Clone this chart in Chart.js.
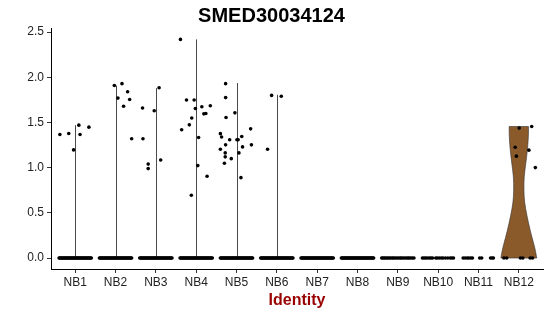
<!DOCTYPE html>
<html><head><meta charset="utf-8">
<script src="https://cdn.jsdelivr.net/npm/chart.js@4/dist/chart.umd.min.js"></script>
<style>html,body{margin:0;padding:0;background:#fff;}#wrap{width:550px;height:316px;}</style>
</head><body><div id="wrap"><canvas id="c" width="550" height="316"></canvas></div>
<script>
const chartTitle = 'SMED30034124';
const axisTitle = 'Identity';
const categories = ['NB1','NB2','NB3','NB4','NB5','NB6','NB7','NB8','NB9','NB10','NB11','NB12'];
const yTicks = [0, 0.5, 1.0, 1.5, 2.0, 2.5];

// non-zero expression values per identity, with their horizontal jitter (category units)
const exprValues = [
  [1.367, 1.378, 1.197, 1.471, 1.367, 1.449],
  [1.91, 1.77, 1.93, 1.68, 1.84, 1.755, 1.32],
  [1.66, 1.32, 1.04, 0.99, 1.63, 1.885, 1.086],
  [2.42, 1.75, 1.75, 1.655, 1.674, 1.596, 1.60, 1.685, 1.55, 1.474, 1.42, 1.334, 1.023, 0.906, 0.695],
  [1.93, 1.776, 1.607, 1.556, 1.377, 1.34, 1.31, 1.31, 1.31, 1.345, 1.43, 1.253, 1.23, 1.253, 1.205, 1.164, 1.164, 1.12, 1.10, 1.05, 0.89],
  [1.205, 1.80, 1.79],
  [], [], [], [], [],
  [1.438, 1.456, 1.227, 1.194, 1.128, 1.001]
];
const exprJitter = [
  [-0.38, -0.16, -0.04, 0.09, 0.12, 0.34],
  [-0.03, 0.06, 0.16, 0.20, 0.30, 0.35, 0.40],
  [-0.33, -0.32, -0.19, -0.19, -0.04, 0.08, 0.12],
  [-0.39, -0.24, -0.05, -0.02, 0.14, 0.19, 0.24, 0.35, -0.11, -0.17, -0.36, 0.06, 0.04, 0.27, -0.12],
  [-0.27, -0.27, -0.04, -0.26, -0.40, -0.37, -0.17, 0.01, 0.04, 0.13, 0.35, -0.27, 0.15, 0.37, -0.40, 0.06, -0.28, -0.28, -0.13, -0.30, 0.11],
  [-0.23, -0.13, 0.11],
  [], [], [], [], [],
  [0.01, 0.32, -0.09, 0.25, -0.06, 0.41]
];

// cells with zero expression: horizontal jitter of each dot (category units)
const zeroJitterDense = [-0.40,-0.38,-0.36,-0.34,-0.32,-0.30,-0.28,-0.26,-0.24,-0.22,-0.20,-0.18,-0.16,-0.14,-0.12,-0.10,-0.08,-0.06,-0.04,-0.02,0.00,0.02,0.04,0.06,0.08,0.10,0.12,0.14,0.16,0.18,0.20,0.22,0.24,0.26,0.28,0.30,0.32,0.34,0.36,0.38,0.40];
const zeroJitterNB9  = [-0.40,-0.37,-0.34,-0.31,-0.27,-0.24,-0.20,-0.17,-0.13,-0.10,-0.06,-0.02,0.02,0.06,0.09,0.13,0.17,0.21,0.25,0.28,0.32,0.36,0.40];
const zeroJitterNB10 = [-0.39,-0.35,-0.31,-0.27,-0.22,-0.18,-0.14,-0.06,-0.02,0.03,0.08,0.12,0.18,0.24,0.30,0.34,0.38];
const zeroJitterNB11 = [-0.38,-0.33,-0.28,-0.24,-0.19,-0.15,0.03,0.08,0.30,0.34,0.37];
const zeroJitterNB12 = [-0.37,-0.30,0.04,0.10,0.28,0.34];
const zeroJitter = [zeroJitterDense, zeroJitterDense, zeroJitterDense, zeroJitterDense, zeroJitterDense, zeroJitterDense,
                    zeroJitterDense, zeroJitterDense, zeroJitterNB9, zeroJitterNB10, zeroJitterNB11, zeroJitterNB12];

// violins: NB1-NB6 collapse to thin lines up to their max value
const violinTops = [1.47, 1.91, 1.88, 2.42, 1.937, 1.807, 0, 0, 0, 0, 0, 0];
// NB12 violin profile: value -> half width (category units)
const nb12ViolinValue = [0.0, 0.08, 0.16, 0.30, 0.47, 0.62, 0.75, 0.90, 1.05, 1.20, 1.35, 1.456];
const nb12ViolinHalf  = [0.445, 0.415, 0.37, 0.285, 0.20, 0.14, 0.125, 0.13, 0.175, 0.215, 0.24, 0.24];

const points = [];
categories.forEach((c, i) => {
  zeroJitter[i].forEach(o => points.push({x: i + 1 + o, y: 0}));
  exprValues[i].forEach((v, j) => points.push({x: i + 1 + exprJitter[i][j], y: v}));
});

function smoothSide(ctx, pts, first) {
  // quadratic smoothing through midpoints
  if (first) ctx.moveTo(pts[0][0], pts[0][1]); else ctx.lineTo(pts[0][0], pts[0][1]);
  for (let k = 1; k < pts.length - 1; k++) {
    const mx = (pts[k][0] + pts[k + 1][0]) / 2, my = (pts[k][1] + pts[k + 1][1]) / 2;
    ctx.quadraticCurveTo(pts[k][0], pts[k][1], mx, my);
  }
  const l = pts[pts.length - 1];
  ctx.lineTo(l[0], l[1]);
}

const violinPlugin = {
  id: 'violins',
  beforeDatasetsDraw(chart) {
    const xs = chart.scales.x, ys = chart.scales.y, ctx = chart.ctx;
    ctx.save();
    violinTops.forEach((t, i) => {
      if (t <= 0) return;
      const px = Math.round(xs.getPixelForValue(i + 1)) + 0.5;
      ctx.beginPath();
      ctx.moveTo(px, ys.getPixelForValue(0));
      ctx.lineTo(px, ys.getPixelForValue(t));
      ctx.strokeStyle = '#4a4a4a';
      ctx.lineWidth = 1;
      ctx.stroke();
    });
    const cx = 12;
    const right = nb12ViolinValue.map((v, k) => [xs.getPixelForValue(cx + nb12ViolinHalf[k]), ys.getPixelForValue(v)]);
    const left = nb12ViolinValue.map((v, k) => [xs.getPixelForValue(cx - nb12ViolinHalf[k]), ys.getPixelForValue(v)]).reverse();
    ctx.beginPath();
    smoothSide(ctx, right, true);
    smoothSide(ctx, left, false);
    ctx.closePath();
    ctx.fillStyle = '#8B5A2B';
    ctx.fill();
    ctx.strokeStyle = '#333333';
    ctx.lineWidth = 0.6;
    ctx.stroke();
    ctx.restore();
  }
};

const FONT = "'Liberation Sans', Arial, Helvetica, sans-serif";
new Chart(document.getElementById('c'), {
  type: 'scatter',
  data: { datasets: [{ data: points, pointRadius: 1.8, pointBorderWidth: 0, pointBackgroundColor: '#000', borderColor: '#000' }] },
  options: {
    responsive: false, animation: false, devicePixelRatio: 1,
    layout: { padding: { left: 0, right: 7, top: 0, bottom: 0 } },
    plugins: {
      legend: { display: false }, tooltip: { enabled: false },
      title: { display: true, text: chartTitle, color: '#000', font: { family: FONT, size: 20, weight: 'bold' }, padding: { top: 4, bottom: 0 } }
    },
    scales: {
      x: {
        type: 'linear', min: 0.4, max: 12.6,
        afterBuildTicks: s => { s.ticks = categories.map((c, i) => ({ value: i + 1 })); },
        afterFit: s => { s.height = 47; },
        ticks: { autoSkip: false, maxRotation: 0, padding: 2, color: '#222', font: { family: FONT, size: 12 }, callback: v => categories[Math.round(v) - 1] },
        grid: { display: true, drawOnChartArea: false, drawTicks: true, tickLength: 4, color: '#333' },
        border: { display: true, color: '#000', width: 1 },
        title: { display: true, text: axisTitle, color: '#990000', font: { family: FONT, size: 16, weight: 'bold' }, padding: { top: 0, bottom: 6 } }
      },
      y: {
        min: -0.121, max: 2.546,
        afterBuildTicks: s => { s.ticks = yTicks.map(v => ({ value: v })); },
        afterFit: s => { s.width = 51; },
        ticks: { padding: 3, color: '#222', font: { family: FONT, size: 12 }, callback: v => v.toFixed(1) },
        grid: { display: true, drawOnChartArea: false, drawTicks: true, tickLength: 4, color: '#333' },
        border: { display: true, color: '#000', width: 1 }
      }
    }
  },
  plugins: [violinPlugin]
});
</script></body></html>
